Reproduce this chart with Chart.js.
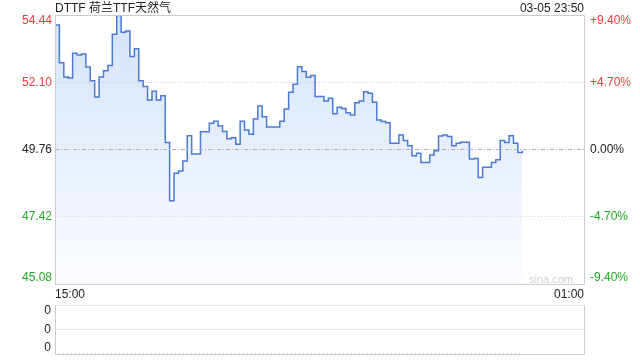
<!DOCTYPE html>
<html>
<head>
<meta charset="utf-8">
<script src="https://cdn.jsdelivr.net/npm/chart.js@4.4.1/dist/chart.umd.min.js"></script>
<style>
  body { margin: 0; background: #fff; }
  #wrap { position: relative; width: 640px; height: 360px; font-family: "Liberation Sans", Arial, "Noto Sans CJK SC", sans-serif; }
  #price { position: absolute; left: 0; top: 0; }
  #volume { position: absolute; left: 0; top: 300px; }
  .txt { position: absolute; font-size: 12px; color: #222; line-height: 14px; white-space: nowrap; }
</style>
</head>
<body>
<div id="wrap">
  <canvas id="price" width="640" height="300"></canvas>
  <canvas id="volume" width="640" height="60"></canvas>
  <div class="txt" style="left:55px; top:1px;">DTTF 荷兰TTF天然气</div>
  <div class="txt" style="right:56px; top:1px;">03-05 23:50</div>
  <div class="txt" style="right:67px; top:272px; color:#cfcfcf; font-size:11px;">sina.com</div>
</div>
<script>
const family = '"Liberation Sans", Arial, sans-serif';
const prevClose = 49.76;

// minutes after 15:00, one point every 5 minutes
const minutes = [0, 5, 10, 15, 20, 25, 30, 35, 40, 45, 50, 55, 60, 65, 70, 75, 80, 85, 90, 95,
  100, 105, 110, 115, 120, 125, 130, 135, 140, 145, 150, 155, 160, 165, 170, 175, 180, 185, 190, 195,
  200, 205, 210, 215, 220, 225, 230, 235, 240, 245, 250, 255, 260, 265, 270, 275, 280, 285, 290, 295,
  300, 305, 310, 315, 320, 325, 330, 335, 340, 345, 350, 355, 360, 365, 370, 375, 380, 385, 390, 395,
  400, 405, 410, 415, 420, 425, 430, 435, 440, 445, 450, 455, 460, 465, 470, 475, 480, 485, 490, 495,
  500, 505, 510, 515, 520, 525, 530];

const prices = [54.09, 52.78, 52.28, 52.25, 53.11, 53.05, 53.08, 52.63, 52.15, 51.59,
  52.28, 52.50, 52.68, 53.77, 54.42, 53.84, 53.88, 52.99, 53.26, 52.15,
  51.95, 51.48, 51.79, 51.48, 51.63, 50.00, 47.98, 48.93, 49.01, 49.36,
  50.24, 49.60, 49.60, 50.38, 50.38, 50.67, 50.74, 50.58, 50.39, 50.13,
  50.17, 49.94, 50.74, 50.44, 50.29, 50.82, 51.27, 50.90, 50.54, 50.54,
  50.54, 50.74, 51.17, 51.75, 52.03, 52.64, 52.47, 52.27, 52.33, 51.60,
  51.60, 51.45, 51.54, 51.00, 51.23, 51.19, 51.04, 50.96, 51.39, 51.45,
  51.77, 51.72, 51.40, 50.79, 50.73, 50.69, 49.98, 49.98, 50.26, 50.07,
  49.89, 49.54, 49.63, 49.31, 49.31, 49.57, 49.72, 50.23, 50.26, 50.21,
  49.89, 49.98, 50.01, 50.01, 49.43, 49.45, 48.79, 49.14, 49.14, 49.31,
  49.40, 50.07, 50.00, 50.24, 49.98, 49.66, 49.72];

const volumes = [0, 0, 0, 0, 0, 0, 0, 0, 0, 0, 0, 0, 0, 0, 0, 0, 0, 0, 0, 0,
  0, 0, 0, 0, 0, 0, 0, 0, 0, 0, 0, 0, 0, 0, 0, 0, 0, 0, 0, 0,
  0, 0, 0, 0, 0, 0, 0, 0, 0, 0, 0, 0, 0, 0, 0, 0, 0, 0, 0, 0,
  0, 0, 0, 0, 0, 0, 0, 0, 0, 0, 0, 0, 0, 0, 0, 0, 0, 0, 0, 0,
  0, 0, 0, 0, 0, 0, 0, 0, 0, 0, 0, 0, 0, 0, 0, 0, 0, 0, 0, 0,
  0, 0, 0, 0, 0, 0, 0];

const pctTicks = [-9.40, -4.70, 0, 4.70, 9.40];
const xTickMinutes = [0, 600];
const xTickLabels = ['15:00', '01:00'];
const volTicks = [0, 1, 2];
const volTickLabels = ['0', '0', '0'];

const priceTicks = pctTicks.map(p => prevClose * (1 + p / 100));

// push first/last label inside the frame
function edgeLabel(text, i, n) {
  if (i === n - 1) return ['', text];
  if (i === 0) return [text, ''];
  return text;
}

function pctColor(p) {
  if (p > 0.001) return '#ee3b3b';
  if (p < -0.001) return '#22aa22';
  return '#222';
}

// fixed axis width, no extra room reserved for label overhang
function fixWidth(w) {
  return s => { s.width = w; s.paddingTop = 0; s.paddingBottom = 0; };
}

const framePlugin = {
  id: 'frame',
  afterDraw(chart, args, opts) {
    const { ctx, chartArea: a } = chart;
    const l = Math.round(a.left) + 0.5, r = Math.round(a.right) + 0.5;
    const t = Math.round(a.top) + 0.5, b = Math.round(a.bottom) + 0.5;
    ctx.save();
    ctx.strokeStyle = '#cccccc';
    ctx.lineWidth = 1;
    ctx.beginPath();
    if (opts.top) { ctx.moveTo(l, t); ctx.lineTo(r, t); }
    ctx.moveTo(l, t); ctx.lineTo(l, b);
    ctx.moveTo(r, t); ctx.lineTo(r, b);
    ctx.moveTo(l, b); ctx.lineTo(r, b);
    ctx.stroke();
    ctx.restore();
  }
};

new Chart(document.getElementById('price'), {
  type: 'line',
  data: {
    datasets: [{
      data: minutes.map((m, i) => ({ x: m, y: prices[i] })),
      stepped: true,
      borderColor: '#4a7ad4',
      borderWidth: 1.5,
      pointRadius: 0,
      fill: 'start',
      backgroundColor: (ctx) => {
        const area = ctx.chart.chartArea;
        if (!area) return '#e3ecfb';
        const g = ctx.chart.ctx.createLinearGradient(0, area.top, 0, area.bottom);
        g.addColorStop(0, '#d4e2f9');
        g.addColorStop(1, '#fcfdff');
        return g;
      }
    }]
  },
  options: {
    responsive: false,
    animation: false,
    devicePixelRatio: 1,
    layout: { padding: { top: 15, left: 0, right: 0, bottom: 0 } },
    plugins: { legend: { display: false }, tooltip: { enabled: false }, frame: { top: true } },
    scales: {
      x: {
        type: 'linear', min: 0, max: 600,
        afterBuildTicks: s => { s.ticks = xTickMinutes.map(v => ({ value: v })); },
        afterFit: s => { s.height = 16; s.paddingLeft = 0; s.paddingRight = 0; },
        ticks: {
          align: 'inner', maxRotation: 0, padding: 3, color: '#222', autoSkip: false,
          font: { size: 12, family },
          callback: (v, i) => xTickLabels[i]
        },
        grid: { display: false, drawTicks: false },
        border: { display: false }
      },
      y: {
        position: 'left', min: priceTicks[0], max: priceTicks[priceTicks.length - 1],
        afterBuildTicks: s => { s.ticks = priceTicks.map(v => ({ value: v })); },
        afterFit: fixWidth(55),
        ticks: {
          padding: 3, autoSkip: false,
          font: { size: 12, family, lineHeight: 1 },
          color: ctx => ctx.tick ? pctColor((ctx.tick.value / prevClose - 1) * 100) : '#222',
          callback: (v, i, t) => edgeLabel(v.toFixed(2), i, t.length)
        },
        grid: {
          drawTicks: false, z: 1,
          color: ctx => ctx.tick && Math.abs(ctx.tick.value - prevClose) < 1e-6 ? '#b0b0b0' : '#cfcfcf'
        },
        border: {
          display: false,
          dash: ctx => ctx.tick && Math.abs(ctx.tick.value - prevClose) < 1e-6 ? [4, 2, 1, 2] : [1, 2]
        }
      },
      y1: {
        position: 'right', min: pctTicks[0], max: pctTicks[pctTicks.length - 1],
        afterBuildTicks: s => { s.ticks = pctTicks.map(v => ({ value: v })); },
        afterFit: fixWidth(56),
        ticks: {
          padding: 6, autoSkip: false,
          font: { size: 12, family, lineHeight: 1 },
          color: ctx => ctx.tick ? pctColor(ctx.tick.value) : '#222',
          callback: (v, i, t) => edgeLabel((v > 0 ? '+' : '') + v.toFixed(2) + '%', i, t.length)
        },
        grid: { drawOnChartArea: false, drawTicks: false },
        border: { display: false }
      }
    }
  },
  plugins: [framePlugin]
});

new Chart(document.getElementById('volume'), {
  type: 'line',
  data: {
    datasets: [{
      data: minutes.map((m, i) => ({ x: m, y: volumes[i] })),
      borderColor: '#999',
      borderWidth: 1,
      borderDash: [1, 3],
      pointRadius: 0,
      fill: false
    }]
  },
  options: {
    responsive: false,
    animation: false,
    devicePixelRatio: 1,
    layout: { padding: { top: 5, left: 0, right: 0, bottom: 0 } },
    plugins: { legend: { display: false }, tooltip: { enabled: false }, frame: { top: false } },
    scales: {
      x: {
        type: 'linear', min: 0, max: 600,
        ticks: { display: false },
        grid: { display: false, drawTicks: false },
        border: { display: false },
        afterFit: s => { s.height = 6; s.paddingLeft = 0; s.paddingRight = 0; }
      },
      y: {
        min: volTicks[0], max: volTicks[volTicks.length - 1],
        afterBuildTicks: s => { s.ticks = volTicks.map(v => ({ value: v })); },
        afterFit: fixWidth(55),
        ticks: {
          padding: 4, color: '#222', autoSkip: false,
          font: { size: 12, family, lineHeight: 1 },
          callback: (v, i, t) => edgeLabel(volTickLabels[i], i, t.length)
        },
        grid: { drawTicks: false, color: '#c8c8c8' },
        border: { display: false, dash: [1, 1] }
      },
      y1: {
        position: 'right', min: 0, max: 2,
        ticks: { display: false },
        grid: { display: false, drawTicks: false },
        border: { display: false },
        afterFit: fixWidth(56)
      }
    }
  },
  plugins: [framePlugin]
});
</script>
</body>
</html>
